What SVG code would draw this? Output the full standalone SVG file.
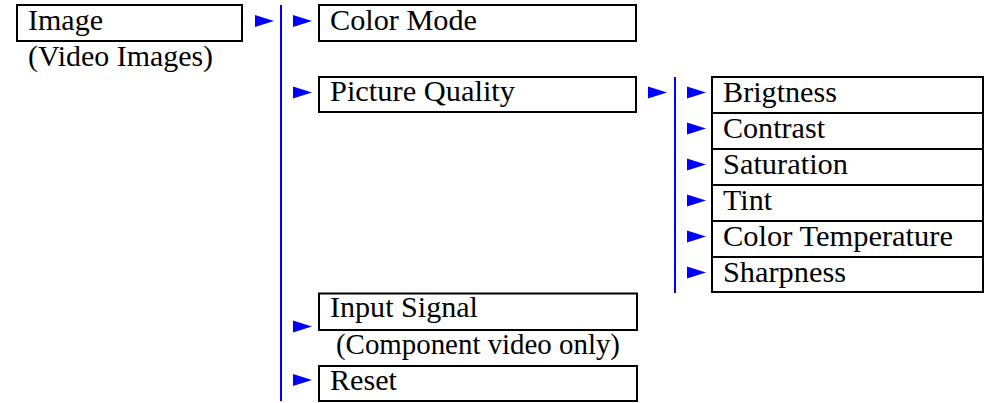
<svg xmlns="http://www.w3.org/2000/svg" xmlns:xlink="http://www.w3.org/1999/xlink" width="993" height="403" viewBox="0 0 993 403" font-family="Liberation Serif, DejaVu Serif, serif">
<style>
.box{fill:#fff;stroke:#000;stroke-width:2}
.bl{stroke:#0000ff;stroke-width:2;fill:none}
.ar{fill:#0000ff}
</style>
<defs>
<polygon id="tri" class="ar" points="0,-6 19,0 0,6"/>
</defs>
<rect width="993" height="403" fill="#fff"/>
<g id="connectors">
<line class="bl" x1="281" y1="5" x2="281" y2="401"/>
<line class="bl" x1="675" y1="77" x2="675" y2="293"/>
<use xlink:href="#tri" x="255" y="21"/>
<use xlink:href="#tri" x="293" y="21"/>
<use xlink:href="#tri" x="293" y="92.5"/>
<use xlink:href="#tri" x="293" y="326.5"/>
<use xlink:href="#tri" x="293" y="380"/>
<use xlink:href="#tri" x="648" y="92.5"/>
<use xlink:href="#tri" x="687" y="92.5"/>
<use xlink:href="#tri" x="687" y="128.5"/>
<use xlink:href="#tri" x="687" y="164.5"/>
<use xlink:href="#tri" x="687" y="200.5"/>
<use xlink:href="#tri" x="687" y="236.5"/>
<use xlink:href="#tri" x="687" y="272.5"/>
</g>
<g font-family="Liberation Serif" font-size="29" fill="#000">
<g id="image">
<rect class="box" x="17" y="5" width="225" height="36"/>
<text x="28" y="30" textLength="75" lengthAdjust="spacingAndGlyphs">Image</text>
<text x="28" y="66" textLength="185" lengthAdjust="spacingAndGlyphs">(Video Images)</text>
</g>
<g id="color-mode">
<rect class="box" x="319" y="5" width="317" height="36"/>
<text x="330" y="30" textLength="147" lengthAdjust="spacingAndGlyphs">Color Mode</text>
</g>
<g id="picture-quality">
<rect class="box" x="319" y="77" width="317" height="35"/>
<text x="330" y="101" textLength="185" lengthAdjust="spacingAndGlyphs">Picture Quality</text>
</g>
<g id="brigtness">
<rect class="box" x="712" y="77" width="271" height="36"/>
<text x="723" y="101.5" textLength="114" lengthAdjust="spacingAndGlyphs">Brigtness</text>
</g>
<g id="contrast">
<rect class="box" x="712" y="113" width="271" height="36"/>
<text x="723" y="137.5" textLength="102" lengthAdjust="spacingAndGlyphs">Contrast</text>
</g>
<g id="saturation">
<rect class="box" x="712" y="149" width="271" height="36"/>
<text x="723" y="173.5" textLength="125" lengthAdjust="spacingAndGlyphs">Saturation</text>
</g>
<g id="tint">
<rect class="box" x="712" y="185" width="271" height="36"/>
<text x="723" y="209.5" textLength="49" lengthAdjust="spacingAndGlyphs">Tint</text>
</g>
<g id="color-temperature">
<rect class="box" x="712" y="221" width="271" height="36"/>
<text x="723" y="245.5" textLength="230" lengthAdjust="spacingAndGlyphs">Color Temperature</text>
</g>
<g id="sharpness">
<rect class="box" x="712" y="257" width="271" height="35"/>
<text x="723" y="281.5" textLength="123" lengthAdjust="spacingAndGlyphs">Sharpness</text>
</g>
<g id="input-signal">
<rect class="box" x="319" y="293.5" width="318" height="36.5"/>
<text x="330" y="317" textLength="148" lengthAdjust="spacingAndGlyphs">Input Signal</text>
<text x="336" y="354" textLength="284" lengthAdjust="spacingAndGlyphs">(Component video only)</text>
</g>
<g id="reset">
<rect class="box" x="319" y="366" width="318" height="35"/>
<text x="330" y="389.5" textLength="67" lengthAdjust="spacingAndGlyphs">Reset</text>
</g>
</g>
</svg>
